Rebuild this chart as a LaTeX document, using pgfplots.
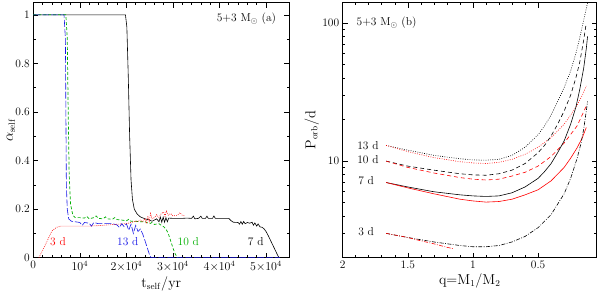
\documentclass[border=0pt]{standalone}
\usepackage{pgfplots}
\pgfplotsset{compat=1.18}
\definecolor{myblue}{RGB}{20,20,230}
\definecolor{mygreen}{RGB}{0,175,0}
\definecolor{myred}{RGB}{255,0,0}
\begin{document}
\begin{tikzpicture}[font=\fontsize{11.5}{13}\selectfont]
\pgfplotsset{
  every axis/.append style={
    scale only axis, height=255bp,
    tick align=inside, tick pos=both,
    major tick length=5bp, minor tick length=2.7bp,
    axis line style={line width=0.8pt},
    every tick/.style={black, line width=0.6pt},
    tick label style={font=\fontsize{11.5}{13}\selectfont},
    label style={font=\fontsize{13.5}{15}\selectfont},
    xlabel style={yshift=2bp},
  },
}
% ---------------- panel (a)
\begin{axis}[at={(0,0)}, anchor=south west, width=256bp,
  xmin=0, xmax=55000, ymin=0, ymax=1.05,
  scaled x ticks=false,
  xtick={0,10000,20000,30000,40000,50000},
  xticklabels={0,$10^4$,$2{\times}10^4$,$3{\times}10^4$,$4{\times}10^4$,$5{\times}10^4$},
  minor x tick num=4,
  ytick={0,0.2,0.4,0.6,0.8,1}, yticklabels={0,0.2,0.4,0.6,0.8,1},
  minor y tick num=1,
  xlabel={$\mathrm{t_{self}/yr}$},
  ylabel={$\alpha_{\mathrm{self}}$},
  ylabel style={at={([xshift=-22.5bp]axis description cs:0,0.5)}, anchor=center},
]
% 7 d black
\addplot[black, line width=0.6pt] coordinates {
(0,1)(19800,1)(20100,0.95)(20400,0.75)(20700,0.5)(21000,0.32)(21300,0.24)(21700,0.2)
(22300,0.18)(23000,0.168)(24000,0.16)(25000,0.155)(25500,0.15)(26000,0.155)(26500,0.16)
(27000,0.148)(27300,0.167)(27600,0.146)(27900,0.167)(28200,0.146)(28500,0.165)(28800,0.148)(29100,0.163)
(30000,0.162)(32000,0.162)(33000,0.163)(34000,0.162)(34400,0.171)(34700,0.16)(35500,0.162)
(36000,0.171)(36300,0.162)(37000,0.162)(37300,0.171)(37600,0.162)(38500,0.162)(38800,0.172)(39100,0.162)
(40000,0.162)(42000,0.162)(42500,0.152)(43000,0.146)(44000,0.145)(44300,0.138)(44600,0.149)(44900,0.138)
(45200,0.149)(45500,0.14)(46000,0.145)(46500,0.142)(47000,0.146)(47300,0.134)(47600,0.143)(48000,0.13)
(48300,0.139)(48700,0.127)(49200,0.125)(49600,0.118)(50000,0.108)(50500,0.09)(51000,0.07)
(51500,0.05)(52000,0.03)(52500,0.01)(52800,0)
};
% 10 d green
\addplot[mygreen, line width=0.7pt, dash pattern=on 3pt off 2pt] coordinates {
(0,1)(7000,1)(7300,0.9)(7500,0.6)(7700,0.35)(8000,0.22)(8500,0.175)(9000,0.165)(10000,0.165)
(11000,0.163)(11500,0.17)(12000,0.16)(13000,0.165)(13500,0.172)(14000,0.162)(15000,0.16)(15500,0.168)
(16000,0.16)(17000,0.158)(17500,0.165)(18000,0.157)(19000,0.155)(20000,0.152)(20500,0.158)(21000,0.15)
(22000,0.15)(23000,0.148)(24000,0.148)(25000,0.14)(25500,0.145)(26000,0.137)(27000,0.14)(27500,0.133)
(28000,0.128)(28500,0.118)(29000,0.1)(29500,0.07)(30000,0.04)(30500,0.015)(31000,0)
};
% 13 d blue
\addplot[myblue, line width=0.6pt, dash pattern=on 7pt off 2pt] coordinates {
(0,1)(6600,1)(6900,0.9)(7000,0.6)(7100,0.3)(7300,0.2)(7600,0.16)(8200,0.15)(9000,0.148)
(10000,0.145)(10500,0.133)(11000,0.145)(12000,0.142)(12500,0.13)(13000,0.145)(14000,0.14)
(15000,0.14)(17000,0.14)(18000,0.135)(18500,0.124)(19000,0.14)(19500,0.128)(20000,0.14)
(20500,0.113)(21000,0.138)(21500,0.1)(22000,0.133)(22500,0.108)(23000,0.118)(23500,0.098)
(24000,0.07)(24500,0.04)(25000,0.01)(25300,0)(53000,0)
};
% 3 d red
\addplot[myred, line width=0.6pt, dash pattern=on 0.8pt off 1.2pt] coordinates {
(1200,0)(2000,0.03)(3000,0.07)(4000,0.11)(5000,0.125)(6000,0.13)(8000,0.13)(10000,0.13)
(12000,0.13)(14000,0.132)(16000,0.135)(18000,0.138)(20000,0.14)(21000,0.145)(22000,0.15)
(22500,0.15)(23000,0.155)(23500,0.148)(24000,0.162)(24300,0.14)(24600,0.172)(24900,0.15)
(25200,0.182)(25500,0.16)(26000,0.165)(26500,0.177)(27000,0.165)(27500,0.182)(28000,0.188)
(28300,0.17)(28600,0.192)(29000,0.175)(29500,0.182)(30000,0.172)(31000,0.175)(31500,0.186)
(32000,0.175)(32500,0.172)
};
\node[myred] at (axis cs:5300,0.066) {3 d};
\node[myblue] at (axis cs:20300,0.066) {13 d};
\node[mygreen] at (axis cs:33300,0.066) {10 d};
\node[black] at (axis cs:47800,0.066) {7 d};
\node[anchor=east] at (axis cs:52900,0.985) {5+3 M$_\odot$ (a)};
\end{axis}
% ---------------- panel (b)
\begin{axis}[at={(309.4bp,0)}, anchor=south west, width=254bp,
  xmin=0.05, xmax=2, x dir=reverse,
  ymode=log, ymin=2, ymax=140,
  xtick={0.5,1,1.5,2}, xticklabels={0.5,1,1.5,2},
  minor x tick num=4,
  ytick={10,100}, yticklabels={10,100},
  minor ytick={2,3,4,5,6,7,8,9,20,30,40,50,60,70,80,90},
  xlabel={$\mathrm{q{=}M_1/M_2}$},
  ylabel={$\mathrm{P_{orb}/d}$},
  ylabel style={at={([xshift=-31bp]axis description cs:0,0.5)}, anchor=center},
]
% 13 d
\addplot[black, line width=0.6pt, dash pattern=on 0.8pt off 1.5pt] coordinates {
(1.667,13.0)(1.5,12.0)(1.3,11.0)(1.1,10.4)(1.0,10.2)(0.9,10.15)(0.8,10.3)(0.7,11.0)(0.6,12.6)
(0.5,15.5)(0.45,18)(0.4,21.5)(0.35,27)(0.3,34)(0.25,45)(0.21,60)(0.18,78)(0.15,105)(0.12,140)
};
\addplot[myred, line width=0.6pt, dash pattern=on 0.8pt off 1.5pt] coordinates {
(1.667,13.0)(1.5,11.7)(1.3,10.6)(1.1,9.9)(1.0,9.7)(0.9,9.6)(0.8,9.8)(0.7,10.3)(0.6,11.2)
(0.5,12.6)(0.4,14.8)(0.3,18.5)(0.25,21.5)(0.2,25.5)(0.16,30)(0.13,35)
};
% 10 d
\addplot[black, line width=0.6pt, dash pattern=on 4pt off 3pt] coordinates {
(1.667,10.0)(1.5,9.2)(1.3,8.6)(1.1,8.1)(1.0,7.95)(0.9,7.9)(0.8,8.1)(0.7,8.6)(0.6,9.6)
(0.5,11.5)(0.45,13)(0.4,15.2)(0.35,18.5)(0.3,23)(0.25,30)(0.21,40)(0.18,52)(0.15,75)(0.13,100)
};
\addplot[myred, line width=0.6pt, dash pattern=on 4pt off 3pt] coordinates {
(1.667,10.0)(1.5,9.0)(1.3,8.2)(1.1,7.6)(1.0,7.4)(0.9,7.3)(0.8,7.4)(0.7,7.8)(0.6,8.3)
(0.5,9.2)(0.4,10.8)(0.3,13.5)(0.2,18)(0.13,25)
};
% 7 d
\addplot[black, line width=0.6pt] coordinates {
(1.667,7.0)(1.5,6.5)(1.3,6.0)(1.1,5.7)(1.0,5.6)(0.9,5.55)(0.8,5.6)(0.7,5.9)(0.6,6.5)
(0.5,7.5)(0.45,8.4)(0.4,9.6)(0.35,11.5)(0.3,14)(0.25,18.5)(0.21,24.5)(0.18,33)(0.15,47)(0.13,65)(0.12,80)
};
\addplot[myred, line width=0.6pt] coordinates {
(1.667,7.0)(1.5,6.4)(1.3,5.8)(1.1,5.3)(1.0,5.15)(0.9,5.05)(0.8,5.1)(0.7,5.3)(0.6,5.7)
(0.5,6.2)(0.4,7.2)(0.3,9.0)(0.25,10.5)(0.2,12.5)(0.16,14.8)(0.13,17.5)
};
% 3 d
\addplot[black, line width=0.6pt, dash pattern=on 4pt off 1.5pt on 0.8pt off 1.5pt] coordinates {
(1.667,3.0)(1.5,2.8)(1.3,2.6)(1.1,2.45)(1.0,2.4)(0.9,2.4)(0.8,2.45)(0.7,2.6)(0.6,2.85)
(0.5,3.3)(0.4,4.1)(0.3,5.8)(0.25,7.5)(0.2,10.5)(0.17,13.5)(0.15,17)(0.13,23)(0.12,27)
};
\addplot[myred, line width=0.6pt, dash pattern=on 4pt off 1.5pt on 0.8pt off 1.5pt] coordinates {
(1.667,3.0)(1.5,2.8)(1.4,2.65)(1.3,2.52)(1.2,2.38)(1.15,2.32)
};
\node at (axis cs:1.806,12.9) {13 d};
\node at (axis cs:1.806,10.3) {10 d};
\node at (axis cs:1.82,7.2) {7 d};
\node at (axis cs:1.82,3.07) {3 d};
\node[anchor=west] at (axis cs:1.92,100) {5+3 M$_\odot$ (b)};
\end{axis}
\pgfresetboundingbox
\path (-33.3bp,-33.3bp) rectangle (566.7bp,257.7bp);
\end{tikzpicture}
\end{document}
